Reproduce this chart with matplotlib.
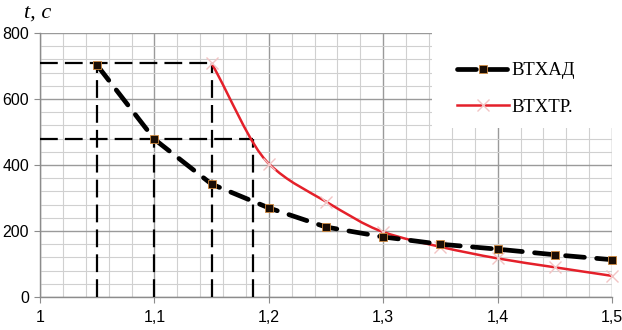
"""Recreate the t(c) comparison chart for ВТХАД and ВТХТР."""
import matplotlib

matplotlib.use("Agg")
import matplotlib.pyplot as plt
from matplotlib.path import Path
from matplotlib.patches import PathPatch, Rectangle
from matplotlib.lines import Line2D
from matplotlib.ticker import MultipleLocator

# data
x_ad = [1.05, 1.10, 1.15, 1.20, 1.25, 1.30, 1.35, 1.40, 1.45, 1.50]
t_ad = [702, 478, 342, 270, 212, 182, 160, 145, 128, 113]

x_tr = [1.15, 1.20, 1.25, 1.30, 1.35, 1.40, 1.45, 1.50]
t_tr = [708, 404, 289, 197, 152, 117, 90, 64]

# construction lines: (left x, right x, t)
guide_hi = (1.05, 1.15, 710)
guide_lo = (1.10, 1.186, 480)

x_ticks = [1.0, 1.1, 1.2, 1.3, 1.4, 1.5]
x_tick_labels = ["1", "1,1", "1,2", "1,3", "1,4", "1,5"]
y_ticks = [0, 200, 400, 600, 800]

labels = ["ВТХАД", "ВТХТР."]

serif = "Liberation Serif"
sans = "Liberation Sans"
red = "#e4202a"


def smooth_path(xs, ys):
    """Smoothed line through the points as cubic Bezier segments."""
    n = len(xs)
    slopes = [(ys[i + 1] - ys[i]) / (xs[i + 1] - xs[i]) for i in range(n - 1)]
    tangents = [slopes[0]]
    for i in range(1, n - 1):
        a, b = slopes[i - 1], slopes[i]
        tangents.append(2 * a * b / (a + b) if a * b > 0 else 0.0)
    tangents.append(slopes[-1])

    verts = [(xs[0], ys[0])]
    codes = [Path.MOVETO]
    for i in range(n - 1):
        h = (xs[i + 1] - xs[i]) / 3
        verts += [
            (xs[i] + h, ys[i] + tangents[i] * h),
            (xs[i + 1] - h, ys[i + 1] - tangents[i + 1] * h),
            (xs[i + 1], ys[i + 1]),
        ]
        codes += [Path.CURVE4] * 3
    return Path(verts, codes)


fig = plt.figure(figsize=(6.22, 3.30), dpi=100)
ax = fig.add_axes([0.0643, 0.10, 0.9197, 0.80])

ax.set_xlim(1.0, 1.5)
ax.set_ylim(0, 800)

ax.xaxis.set_minor_locator(MultipleLocator(0.02))
ax.yaxis.set_minor_locator(MultipleLocator(40))
ax.set_xticks(x_ticks)
ax.set_xticklabels(x_tick_labels)
ax.set_yticks(y_ticks)

ax.grid(which="major", color="#9a9a9a", linewidth=1.0)
ax.grid(which="minor", color="#d0d0d0", linewidth=0.8)
ax.set_axisbelow(True)

for side in ["top", "right"]:
    ax.spines[side].set_visible(False)
for side in ["left", "bottom"]:
    ax.spines[side].set_color("#8c8c8c")
    ax.spines[side].set_linewidth(1.0)

ax.tick_params(which="major", length=4, color="#8c8c8c", labelsize=11.5)
ax.tick_params(which="minor", length=0)
ax.tick_params(axis="x", pad=5)
ax.tick_params(axis="y", pad=4)
for lbl in ax.get_xticklabels() + ax.get_yticklabels():
    lbl.set_fontfamily(sans)

# construction lines
guide_style = dict(color="black", linewidth=1.6, linestyle=(0, (8, 3.2)), zorder=3)
xa, xb, t_hi = guide_hi
ax.plot([1.0, xb], [t_hi, t_hi], **guide_style)
ax.plot([xa, xa], [0, t_hi], **guide_style)
ax.plot([xb, xb], [0, t_hi], **guide_style)
xa, xb, t_lo = guide_lo
ax.plot([1.0, xb], [t_lo, t_lo], **guide_style)
ax.plot([xa, xa], [0, t_lo], **guide_style)
ax.plot([xb, xb], [0, t_lo], **guide_style)

# ВТХТР: smoothed red line with faint x markers
ax.add_patch(
    PathPatch(smooth_path(x_tr, t_tr), facecolor="none", edgecolor=red,
              linewidth=1.8, zorder=4, clip_on=False)
)
ax.plot(x_tr, t_tr, linestyle="none", marker="x", markersize=9,
        markeredgecolor="#f2c4c4", markeredgewidth=1.0, zorder=4, clip_on=False)

# ВТХАД: thick black dashes with square markers
ad_style = dict(color="black", linewidth=3.4, linestyle=(0, (4.0, 2.6)),
                dash_capstyle="round", marker="s", markersize=6,
                markerfacecolor="#1a0d05", markeredgecolor="#d08a40",
                markeredgewidth=0.6)
ax.plot(x_ad, t_ad, zorder=5, clip_on=False, **ad_style)

# legend: white box in the upper right corner, covering the grid
ax.add_patch(Rectangle((0.685, 0.64), 0.315, 0.36, transform=ax.transAxes,
                       facecolor="white", edgecolor="none", zorder=2.5))
handles = [
    Line2D([], [], **ad_style),
    Line2D([], [], color=red, linewidth=1.8, marker="x", markersize=9,
           markeredgecolor="#f2c4c4", markeredgewidth=1.0),
]
leg = ax.legend(handles, labels, loc="upper left",
                bbox_to_anchor=(0.729, 0.89), prop={"family": serif, "size": 13.5},
                frameon=False, borderaxespad=0, borderpad=0,
                labelspacing=1.05, handlelength=2.75, handletextpad=0.15)
leg.set_zorder(6)

fig.text(0.038, 0.948, "t, c", fontfamily=serif, fontstyle="italic", fontsize=16)

fig.savefig("out.png", dpi=100)
